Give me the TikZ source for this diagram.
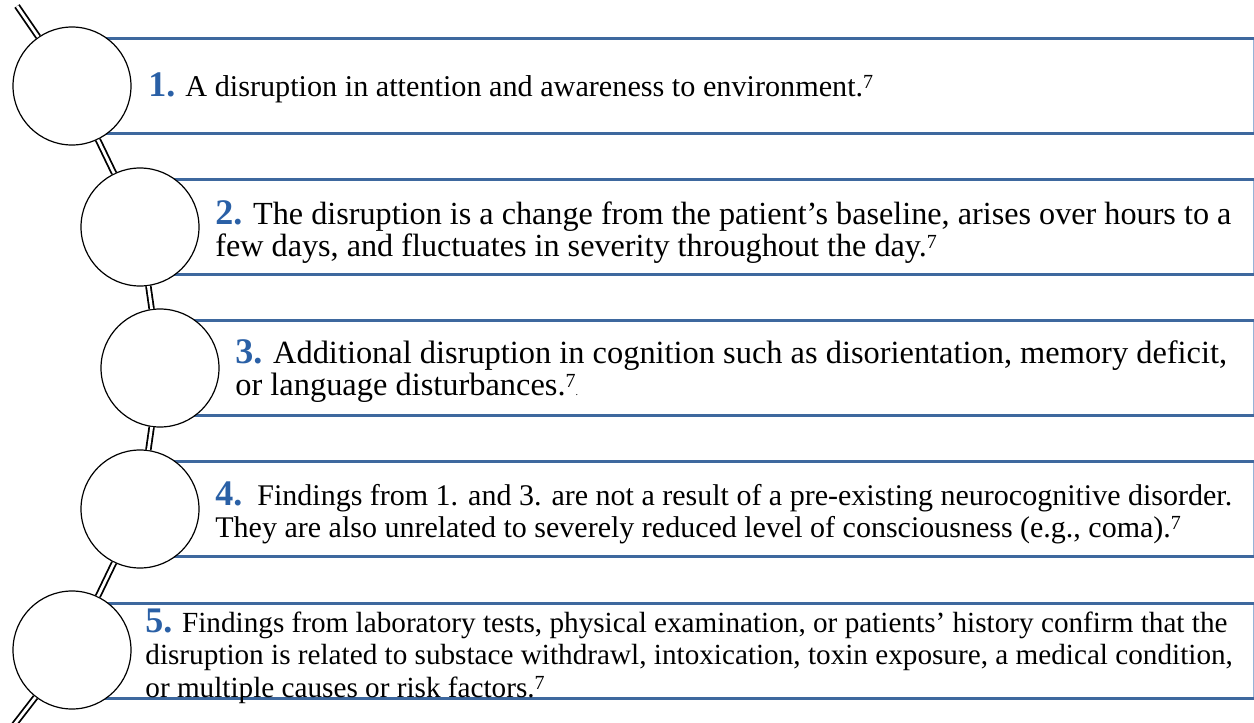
\documentclass[tikz,border=0pt]{standalone}
\usepackage{fontspec}
\setmainfont{Liberation Serif}
\usepackage{tikz}
\usetikzlibrary{positioning,calc}

\definecolor{numblue}{RGB}{42,96,166}
\definecolor{edgeblue}{RGB}{62,104,158}
\definecolor{sideblue}{RGB}{150,180,216}

\newcommand{\numlbl}[1]{{\color{numblue}\fontsize{18}{16.3}\selectfont\bfseries #1}}
\newcommand{\refnum}{\raisebox{4pt}{\fontsize{10}{10}\selectfont 7}}

\begin{document}
\setlength{\lineskiplimit}{-20pt}
\begin{tikzpicture}[
    x=0.5pt, y=-0.5pt,
    itembox/.style={draw=sideblue, line width=0.5pt, fill=white, anchor=west,
                    minimum height=47pt, inner sep=0pt},
    rim/.style={edgeblue, line width=1.5pt},
    bead/.style={circle, draw, line width=0.6pt, fill=white,
                 minimum size=59pt, inner sep=0pt},
    itemtxt/.style={anchor=west, align=left, inner sep=0pt,
                    font=\fontsize{#1}{16.3}\selectfont},
    wire/.style={draw=black, double=white, line width=0.9pt, double distance=1.4pt},
  ]
  \useasboundingbox (0,0) rectangle (1254,723);

  % --- boxes (behind the beads) ---
  \node[itembox, minimum width=590.5pt] (b1) at (72,86) {};
  \node[itembox, minimum width=556.5pt] (b2) at (140,227) {};
  \node[itembox, minimum width=546.5pt] (b3) at (160,368) {};
  \node[itembox, minimum width=556.5pt] (b4) at (140,509) {};
  \node[itembox, minimum width=590.5pt] (b5) at (72,651) {};

  % --- thick top and bottom rims ---
  \foreach \b in {b1,b2,b3,b4,b5} {
    \draw[rim] (\b.north west) -- (\b.north east);
    \draw[rim] (\b.south west) -- (\b.south east);
  }

  % --- beads on the string ---
  \node[bead] (c1) at (72,86) {};
  \node[bead] (c2) at (140,227) {};
  \node[bead] (c3) at (160,368) {};
  \node[bead] (c4) at (140,509) {};
  \node[bead] (c5) at (72,650) {};

  % --- loose ends of the string ---
  \coordinate (top) at (17,6);
  \coordinate (bot) at (14,725);

  % --- string ---
  \draw[wire] (top) -- (c1);
  \draw[wire] (c1) -- (c2);
  \draw[wire] (c2) -- (c3);
  \draw[wire] (c3) -- (c4);
  \draw[wire] (c4) -- (c5);
  \draw[wire] (c5) -- (bot);

  % --- texts ---
  \node[itemtxt=15.1] (t1) at (148,88)
    {\numlbl{1.} A disruption in attention and awareness to environment.\refnum};
  \node[itemtxt=16.1] (t2) at (215,232)
    {\numlbl{2.} The disruption is a change from the patient’s baseline, arises over hours to a\\
     few days, and fluctuates in severity throughout the day.\refnum};
  \node[itemtxt=16.2] (t3) at (235,371)
    {\numlbl{3.} Additional disruption in cognition such as disorientation, memory deficit,\\
     or language disturbances.\refnum{\tiny .}};
  \node[itemtxt=15.0] (t4) at (215,513)
    {\numlbl{4.}\ \ Findings from 1. and 3. are not a result of a pre-existing neurocognitive disorder.\\
     They are also unrelated to severely reduced level of consciousness (e.g., coma).\refnum};
  \node[itemtxt=14.6] (t5) at (145,656)
    {\numlbl{5.} Findings from laboratory tests, physical examination, or patients’ history confirm that the\\
     disruption is related to substace withdrawl, intoxication, toxin exposure, a medical condition,\\
     or multiple causes or risk factors.\refnum};
\end{tikzpicture}
\end{document}
